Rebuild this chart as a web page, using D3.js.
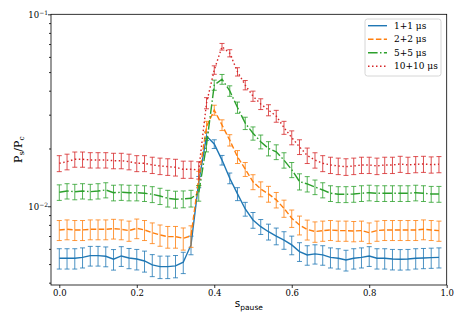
<!DOCTYPE html>
<html>
<head>
<meta charset="utf-8">
<script src="https://cdn.jsdelivr.net/npm/d3@7"></script>
<style>
  body { margin: 0; background: #fff; }
  svg { display: block; }
  .tick text { font-family: "DejaVu Serif", serif; font-size: 8.5px; fill: #000; }
  .legend text { font-family: "DejaVu Serif", serif; font-size: 9px; }
</style>
</head>
<body>
<svg width="463" height="324"></svg>
<script>
const spause = [0, 0.02, 0.04, 0.06, 0.08, 0.1, 0.12, 0.14, 0.16, 0.18,
  0.2, 0.22, 0.24, 0.26, 0.28, 0.3, 0.32, 0.34, 0.36, 0.38,
  0.4, 0.42, 0.44, 0.46, 0.48, 0.5, 0.52, 0.54, 0.56, 0.58,
  0.6, 0.62, 0.64, 0.66, 0.68, 0.7, 0.72, 0.74, 0.76, 0.78,
  0.8, 0.82, 0.84, 0.86, 0.88, 0.9, 0.92, 0.94, 0.96, 0.98];

const labels = ["1+1 μs", "2+2 μs", "5+5 μs", "10+10 μs"];

const ratio1 = [0.00536, 0.00536, 0.00536, 0.00542, 0.00553, 0.00553, 0.00549, 0.00530, 0.00551, 0.00538,
  0.00531, 0.00519, 0.00495, 0.00485, 0.00485, 0.00489, 0.00511, 0.00629, 0.0134, 0.0232,
  0.0211, 0.0174, 0.0140, 0.0116, 0.00968, 0.00848, 0.00783, 0.00737, 0.00700, 0.00667,
  0.00629, 0.00581, 0.00558, 0.00565, 0.00558, 0.00542, 0.00536, 0.00525, 0.00536, 0.00542,
  0.00551, 0.00536, 0.00536, 0.00531, 0.00530, 0.00531, 0.00536, 0.00538, 0.00540, 0.00542];
const err1 = [0.00065, 0.00065, 0.00065, 0.00065, 0.00065, 0.00065, 0.00065, 0.00065, 0.00065, 0.00065,
  0.00065, 0.00065, 0.00065, 0.00065, 0.00065, 0.00065, 0.00065, 0.0007, 0.0009, 0.0012,
  0.0011, 0.0010, 0.0009, 0.0009, 0.0008, 0.0008, 0.0007, 0.0007, 0.0007, 0.0007,
  0.0007, 0.00065, 0.00065, 0.00065, 0.00065, 0.00065, 0.00065, 0.00065, 0.00065, 0.00065,
  0.00065, 0.00065, 0.00065, 0.00065, 0.00065, 0.00065, 0.00065, 0.00065, 0.00065, 0.00065];

const ratio2 = [0.00753, 0.00759, 0.00753, 0.00753, 0.00759, 0.00759, 0.00759, 0.00765, 0.00759, 0.00747,
  0.00768, 0.00753, 0.00729, 0.00709, 0.00695, 0.00695, 0.00681, 0.00701, 0.0140, 0.0260,
  0.0317, 0.0265, 0.0221, 0.0181, 0.0156, 0.0134, 0.0123, 0.0116, 0.0108, 0.00976,
  0.00866, 0.00799, 0.00757, 0.00739, 0.00747, 0.00753, 0.00747, 0.00747, 0.00743, 0.00747,
  0.00729, 0.00747, 0.00753, 0.00753, 0.00753, 0.00753, 0.00753, 0.00759, 0.00753, 0.00747];
const err2 = [0.0009, 0.0009, 0.0009, 0.0009, 0.0009, 0.0009, 0.0009, 0.0009, 0.0009, 0.0009,
  0.0009, 0.0009, 0.0009, 0.0009, 0.0009, 0.0009, 0.0009, 0.0009, 0.0012, 0.0017,
  0.0019, 0.0017, 0.0015, 0.0014, 0.0013, 0.0012, 0.0011, 0.0011, 0.0010, 0.0010,
  0.0009, 0.0009, 0.0009, 0.0009, 0.0009, 0.0009, 0.0009, 0.0009, 0.0009, 0.0009,
  0.0009, 0.0009, 0.0009, 0.0009, 0.0009, 0.0009, 0.0009, 0.0009, 0.0009, 0.0009];

const ratio3 = [0.01183, 0.01201, 0.01191, 0.01201, 0.01191, 0.01201, 0.01216, 0.01177, 0.01183, 0.01177,
  0.01177, 0.01169, 0.01155, 0.01131, 0.01101, 0.01088, 0.01092, 0.01101, 0.01173, 0.0209,
  0.0428, 0.0459, 0.0399, 0.0327, 0.0271, 0.0240, 0.0217, 0.0200, 0.0192, 0.0174,
  0.0155, 0.01346, 0.01307, 0.01260, 0.01216, 0.01169, 0.01155, 0.01155, 0.01159, 0.01169,
  0.01177, 0.01169, 0.01169, 0.01169, 0.01169, 0.01169, 0.01177, 0.01169, 0.01159, 0.01159];
const err3 = [0.0011, 0.0011, 0.0011, 0.0011, 0.0011, 0.0011, 0.0011, 0.0011, 0.0011, 0.0011,
  0.0011, 0.0011, 0.0011, 0.0011, 0.0011, 0.0011, 0.0011, 0.0011, 0.0011, 0.0017,
  0.0026, 0.0027, 0.0025, 0.0022, 0.0020, 0.0019, 0.0018, 0.0017, 0.0017, 0.0016,
  0.0014, 0.0013, 0.0012, 0.0011, 0.0011, 0.0011, 0.0011, 0.0011, 0.0011, 0.0011,
  0.0011, 0.0011, 0.0011, 0.0011, 0.0011, 0.0011, 0.0011, 0.0011, 0.0011, 0.0011];

const ratio4 = [0.01675, 0.01708, 0.01757, 0.01757, 0.01742, 0.01742, 0.01742, 0.01728, 0.01728, 0.01708,
  0.01675, 0.01675, 0.01641, 0.01622, 0.01608, 0.01597, 0.01558, 0.01558, 0.01546, 0.0345,
  0.0513, 0.0678, 0.0627, 0.0502, 0.0428, 0.0375, 0.0341, 0.0317, 0.0295, 0.0257,
  0.0228, 0.0204, 0.0184, 0.0174, 0.01675, 0.01641, 0.01622, 0.01608, 0.01622, 0.01641,
  0.01641, 0.01622, 0.01641, 0.01641, 0.01661, 0.01641, 0.01655, 0.01661, 0.01648, 0.01655];
const err4 = [0.0016, 0.0016, 0.0016, 0.0016, 0.0016, 0.0016, 0.0016, 0.0016, 0.0016, 0.0016,
  0.0016, 0.0016, 0.0016, 0.0016, 0.0016, 0.0016, 0.0016, 0.0016, 0.0016, 0.0023,
  0.0026, 0.0027, 0.0027, 0.0025, 0.0024, 0.0023, 0.0022, 0.0021, 0.0021, 0.0020,
  0.0019, 0.0018, 0.0017, 0.0016, 0.0016, 0.0016, 0.0016, 0.0016, 0.0016, 0.0016,
  0.0016, 0.0016, 0.0016, 0.0016, 0.0016, 0.0016, 0.0016, 0.0016, 0.0016, 0.0016];

const xTicks = [0, 0.2, 0.4, 0.6, 0.8, 1.0];
const yMajor = [0.01, 0.1];
const yMinor = [0.004, 0.005, 0.006, 0.007, 0.008, 0.009, 0.02, 0.03, 0.04, 0.05, 0.06, 0.07, 0.08, 0.09];

const colors = ["#1f77b4", "#ff7f0e", "#2ca02c", "#d62728"];
const dashes = [null, "5.5,2.4", "9.6,2.4,1.5,2.4", "1.5,2.5"];

const svg = d3.select("svg");
const box = { left: 51, right: 446.7, top: 14.3, bottom: 285 };

const x = d3.scaleLinear().domain([-0.0214, 1.0]).range([box.left, box.right]);
const y = d3.scaleLog().domain([0.00389, 0.1]).range([box.bottom, box.top]);

const series = [ratio1, ratio2, ratio3, ratio4].map((vals, i) => ({
  label: labels[i],
  color: colors[i],
  dash: dashes[i],
  points: vals.map((v, j) => ({ x: spause[j], v: v, e: [err1, err2, err3, err4][i][j] })),
}));

const plot = svg.append("g");

series.forEach((s) => {
  const g = plot.append("g");
  const line = d3.line().x((d) => x(d.x)).y((d) => y(d.v));
  g.append("path")
    .datum(s.points)
    .attr("d", line)
    .attr("fill", "none")
    .attr("stroke", s.color)
    .attr("stroke-width", 1.4)
    .attr("stroke-dasharray", s.dash);

  const bars = g.selectAll(".bar").data(s.points).enter().append("g")
    .attr("stroke", s.color)
    .attr("stroke-opacity", 0.8)
    .attr("stroke-width", 1);
  bars.append("line")
    .attr("x1", (d) => x(d.x)).attr("x2", (d) => x(d.x))
    .attr("y1", (d) => y(d.v - d.e)).attr("y2", (d) => y(d.v + d.e));
  bars.append("line")
    .attr("x1", (d) => x(d.x) - 2.5).attr("x2", (d) => x(d.x) + 2.5)
    .attr("y1", (d) => y(d.v - d.e)).attr("y2", (d) => y(d.v - d.e));
  bars.append("line")
    .attr("x1", (d) => x(d.x) - 2.5).attr("x2", (d) => x(d.x) + 2.5)
    .attr("y1", (d) => y(d.v + d.e)).attr("y2", (d) => y(d.v + d.e));
});

// axes
const xAxis = d3.axisBottom(x).tickValues(xTicks).tickSize(3).tickPadding(2)
  .tickFormat(d3.format(".1f"));
svg.append("g")
  .attr("transform", `translate(0,${box.bottom})`)
  .call(xAxis)
  .call((g) => g.select(".domain").remove());

const yAxisMinor = d3.axisLeft(y).tickValues(yMinor).tickSize(2).tickFormat("");
svg.append("g")
  .attr("transform", `translate(${box.left},0)`)
  .call(yAxisMinor)
  .call((g) => g.select(".domain").remove());

const yAxis = d3.axisLeft(y).tickValues(yMajor).tickSize(3).tickPadding(2).tickFormat("");
const yg = svg.append("g")
  .attr("transform", `translate(${box.left},0)`)
  .call(yAxis)
  .call((g) => g.select(".domain").remove());
yg.selectAll(".tick").append("text")
  .attr("x", -3)
  .attr("dy", "0.32em")
  .attr("text-anchor", "end")
  .attr("fill", "#000")
  .each(function (d) {
    const t = d3.select(this);
    t.append("tspan").text("10");
    t.append("tspan").attr("font-size", "6px").attr("dy", "-0.45em").text("−" + Math.round(-Math.log10(d)));
  });

svg.selectAll(".tick line").attr("stroke", "#000").attr("stroke-width", 0.8);

svg.append("rect")
  .attr("x", box.left).attr("y", box.top)
  .attr("width", box.right - box.left).attr("height", box.bottom - box.top)
  .attr("fill", "none").attr("stroke", "#000").attr("stroke-width", 0.8);

// axis labels
const xLabel = svg.append("text")
  .attr("x", (box.left + box.right) / 2)
  .attr("y", 307)
  .attr("text-anchor", "middle")
  .attr("font-family", "DejaVu Sans, sans-serif")
  .attr("font-size", "10.5px");
xLabel.append("tspan").text("s");
xLabel.append("tspan").attr("font-size", "7.5px").attr("dy", 2.5).text("pause");

const yLabel = svg.append("text")
  .attr("transform", `translate(22,${(box.top + box.bottom) / 2}) rotate(-90)`)
  .attr("text-anchor", "middle")
  .attr("font-family", "DejaVu Serif, serif")
  .attr("font-size", "11px");
yLabel.append("tspan").text("P");
yLabel.append("tspan").attr("font-size", "7.5px").attr("dy", 2).text("s");
yLabel.append("tspan").attr("dy", -2).text("/P");
yLabel.append("tspan").attr("font-size", "7.5px").attr("dy", 2).text("c");

// legend
const legend = svg.append("g").attr("class", "legend");
legend.append("rect")
  .attr("x", 365).attr("y", 19)
  .attr("width", 76).attr("height", 57)
  .attr("rx", 2.5)
  .attr("fill", "#fff").attr("fill-opacity", 0.8)
  .attr("stroke", "#ccc").attr("stroke-width", 0.8);
const rows = legend.selectAll(".row").data(series).enter().append("g")
  .attr("transform", (d, i) => `translate(368,${25.7 + i * 13.5})`);
rows.append("line")
  .attr("x1", 0).attr("x2", 19)
  .attr("stroke", (d) => d.color)
  .attr("stroke-width", 1.4)
  .attr("stroke-dasharray", (d) => d.dash);
rows.append("text")
  .attr("x", 26).attr("dy", "0.35em")
  .text((d) => d.label);
</script>
</body>
</html>
